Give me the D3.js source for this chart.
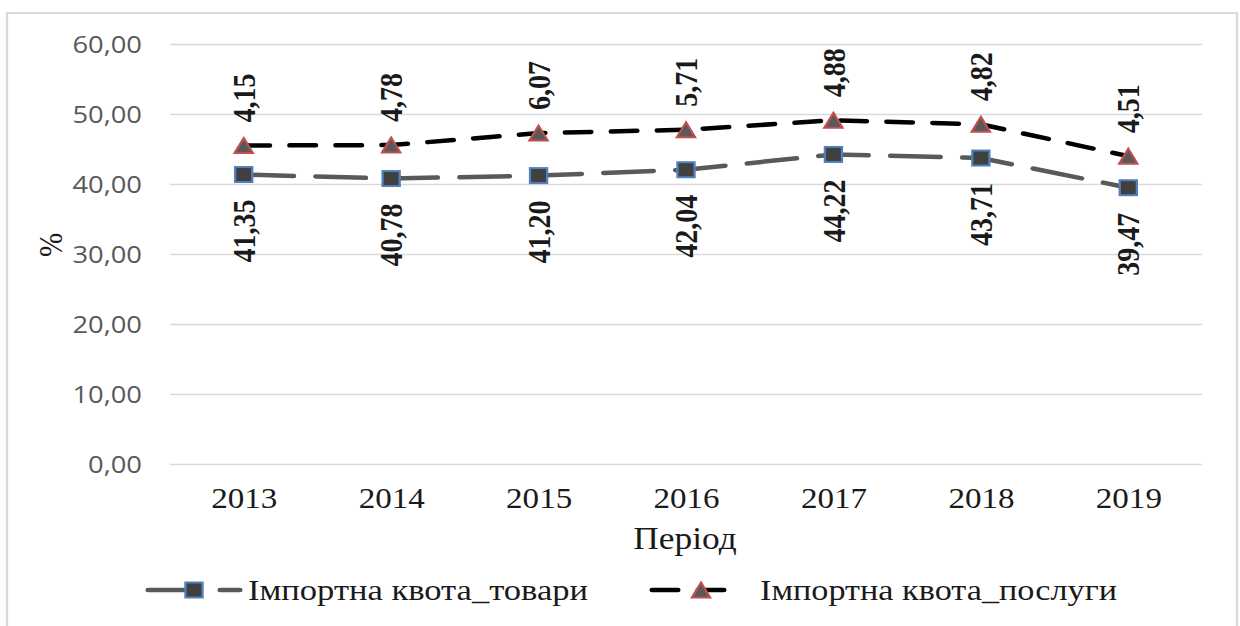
<!DOCTYPE html>
<html>
<head>
  <meta charset="utf-8">
  <script src="https://d3js.org/d3.v7.min.js"></script>
  <style>
    body { margin: 0; background: #fff; }
    svg { display: block; }
  </style>
</head>
<body>
  <div id="chart"></div>
  <script>

    // data
    var years = ["2013", "2014", "2015", "2016", "2017", "2018", "2019"]
    var goods = [41.35, 40.78, 41.20, 42.04, 44.22, 43.71, 39.47]
    var services = [4.15, 4.78, 6.07, 5.71, 4.88, 4.82, 4.51]
    var yTicks = [0, 10, 20, 30, 40, 50, 60]
    var seriesNames = ["Імпортна квота_товари", "Імпортна квота_послуги"]
    var xTitle = "Період"
    var yTitle = "%"

    // the original picture is a bit wider than it should be, so draw in a
    // narrower viewBox and let the svg stretch it out
    var S = 1.14
    var W = 1240 / S, H = 626

    var svg = d3.select("#chart")
      .append("svg")
      .attr("width", 1240)
      .attr("height", 626)
      .attr("viewBox", "0 0 " + W + " " + H)
      .attr("preserveAspectRatio", "none")

    // outer frame
    svg.append("rect")
      .attr("x", 7 / S)
      .attr("y", 13)
      .attr("width", 1230 / S)
      .attr("height", 640)
      .attr("fill", "#fff")
      .attr("stroke", "#d9d9d9")
      .attr("stroke-width", 2)

    var plotL = 170 / S, plotR = 1202 / S, plotT = 44, plotB = 464

    var x = d3.scalePoint()
      .domain(years)
      .range([plotL, plotR])
      .padding(0.5)

    var y = d3.scaleLinear()
      .domain([0, 60])
      .range([plotB, plotT])

    var fmt = function(v) { return d3.format(".2f")(v).replace(".", ",") }

    // gridlines + y labels
    var yAxis = d3.axisLeft(y)
      .tickValues(yTicks)
      .tickSize(-(plotR - plotL))
      .tickPadding(0)
      .tickFormat(fmt)

    var gy = svg.append("g")
      .attr("transform", "translate(" + plotL + ",0)")
      .call(yAxis)
    gy.select(".domain").remove()
    gy.selectAll(".tick line")
      .attr("stroke", "#d9d9d9")
      .attr("stroke-width", 1.3)
    gy.selectAll(".tick text")
      .attr("x", 142 / S - plotL)
      .attr("dy", "0.35em")
      .attr("fill", "#595959")
      .style("font-family", "'Open Sans', sans-serif")
      .style("font-size", "24px")

    // x labels
    var xAxis = d3.axisBottom(x).tickSize(0).tickPadding(0)
    var gx = svg.append("g")
      .attr("transform", "translate(0," + plotB + ")")
      .call(xAxis)
    gx.select(".domain").remove()
    gx.selectAll(".tick text")
      .attr("y", 44)
      .attr("dy", 0)
      .attr("fill", "#1a1a1a")
      .style("font-family", "'Liberation Serif', serif")
      .style("font-size", "29px")

    // axis titles
    svg.append("text")
      .attr("x", 685 / S)
      .attr("y", 549)
      .attr("text-anchor", "middle")
      .attr("fill", "#1a1a1a")
      .style("font-family", "'Liberation Serif', serif")
      .style("font-size", "31px")
      .text(xTitle)

    svg.append("text")
      .attr("transform", "translate(" + (50 / S) + ",245) rotate(-90)")
      .attr("text-anchor", "middle")
      .attr("dy", "0.35em")
      .attr("fill", "#1a1a1a")
      .style("font-family", "'Liberation Serif', serif")
      .style("font-size", "29px")
      .text(yTitle)

    // stacked: second line sits on top of the first
    var rows = years.map(function(yr, i) {
      return { year: yr, goods: goods[i], services: services[i], total: goods[i] + services[i] }
    })

    var line1 = d3.line()
      .x(function(d) { return x(d.year) })
      .y(function(d) { return y(d.goods) })
    var line2 = d3.line()
      .x(function(d) { return x(d.year) })
      .y(function(d) { return y(d.total) })

    var dash1 = (50 / S) + " " + (22 / S)
    var dash2 = (26 / S) + " " + (20 / S)

    svg.append("path")
      .datum(rows)
      .attr("d", line1)
      .attr("fill", "none")
      .attr("stroke", "#595959")
      .attr("stroke-width", 4.5)
      .attr("stroke-linecap", "round")
      .attr("stroke-dasharray", dash1)

    svg.append("path")
      .datum(rows)
      .attr("d", line2)
      .attr("fill", "none")
      .attr("stroke", "#000")
      .attr("stroke-width", 4.5)
      .attr("stroke-linecap", "round")
      .attr("stroke-dasharray", dash2)

    var sq = 15
    var triangle = function(cx, cy) {
      var w = 16, h = 15
      return "M" + cx + "," + (cy - h / 2) + "L" + (cx + w / 2) + "," + (cy + h / 2) +
        "L" + (cx - w / 2) + "," + (cy + h / 2) + "Z"
    }

    svg.selectAll(".m1")
      .data(rows)
      .enter()
      .append("rect")
      .attr("class", "m1")
      .attr("x", function(d) { return x(d.year) - sq / 2 })
      .attr("y", function(d) { return y(d.goods) - sq / 2 })
      .attr("width", sq)
      .attr("height", sq)
      .attr("fill", "#404040")
      .attr("stroke", "#4f81bd")
      .attr("stroke-width", 2)

    svg.selectAll(".m2")
      .data(rows)
      .enter()
      .append("path")
      .attr("class", "m2")
      .attr("d", function(d) { return triangle(x(d.year), y(d.total)) })
      .attr("fill", "#595959")
      .attr("stroke", "#c0504d")
      .attr("stroke-width", 2)

    // data labels, rotated
    svg.selectAll(".l1")
      .data(rows)
      .enter()
      .append("text")
      .attr("class", "l1")
      .attr("transform", function(d) { return "translate(" + x(d.year) + "," + (y(d.goods) + 25) + ") rotate(-90)" })
      .attr("text-anchor", "end")
      .attr("dy", "0.35em")
      .attr("fill", "#1a1a1a")
      .style("font-family", "'Liberation Serif', serif")
      .style("font-weight", "bold")
      .style("font-size", "28px")
      .text(function(d) { return fmt(d.goods) })

    svg.selectAll(".l2")
      .data(rows)
      .enter()
      .append("text")
      .attr("class", "l2")
      .attr("transform", function(d) { return "translate(" + x(d.year) + "," + (y(d.total) - 23) + ") rotate(-90)" })
      .attr("text-anchor", "start")
      .attr("dy", "0.35em")
      .attr("fill", "#1a1a1a")
      .style("font-family", "'Liberation Serif', serif")
      .style("font-weight", "bold")
      .style("font-size", "28px")
      .text(function(d) { return fmt(d.services) })

    // legend
    var ly = 590
    var lg = svg.append("g")

    lg.append("line")
      .attr("x1", 148 / S).attr("x2", 240 / S)
      .attr("y1", ly).attr("y2", ly)
      .attr("stroke", "#595959")
      .attr("stroke-width", 4.5)
      .attr("stroke-linecap", "round")
      .attr("stroke-dasharray", dash1)
    lg.append("rect")
      .attr("x", 194 / S - sq / 2)
      .attr("y", ly - sq / 2)
      .attr("width", sq).attr("height", sq)
      .attr("fill", "#404040")
      .attr("stroke", "#4f81bd")
      .attr("stroke-width", 2)
    lg.append("text")
      .attr("x", 248 / S)
      .attr("y", ly + 10)
      .attr("textLength", 340 / S)
      .attr("lengthAdjust", "spacingAndGlyphs")
      .attr("fill", "#1a1a1a")
      .style("font-family", "'Liberation Serif', serif")
      .style("font-size", "29px")
      .text(seriesNames[0])

    lg.append("line")
      .attr("x1", 652 / S).attr("x2", 724 / S)
      .attr("y1", ly).attr("y2", ly)
      .attr("stroke", "#000")
      .attr("stroke-width", 4.5)
      .attr("stroke-linecap", "round")
      .attr("stroke-dasharray", dash2)
    lg.append("path")
      .attr("d", triangle(701 / S, ly))
      .attr("fill", "#595959")
      .attr("stroke", "#c0504d")
      .attr("stroke-width", 2)
    lg.append("text")
      .attr("x", 760 / S)
      .attr("y", ly + 10)
      .attr("textLength", 357 / S)
      .attr("lengthAdjust", "spacingAndGlyphs")
      .attr("fill", "#1a1a1a")
      .style("font-family", "'Liberation Serif', serif")
      .style("font-size", "29px")
      .text(seriesNames[1])

  </script>
</body>
</html>
